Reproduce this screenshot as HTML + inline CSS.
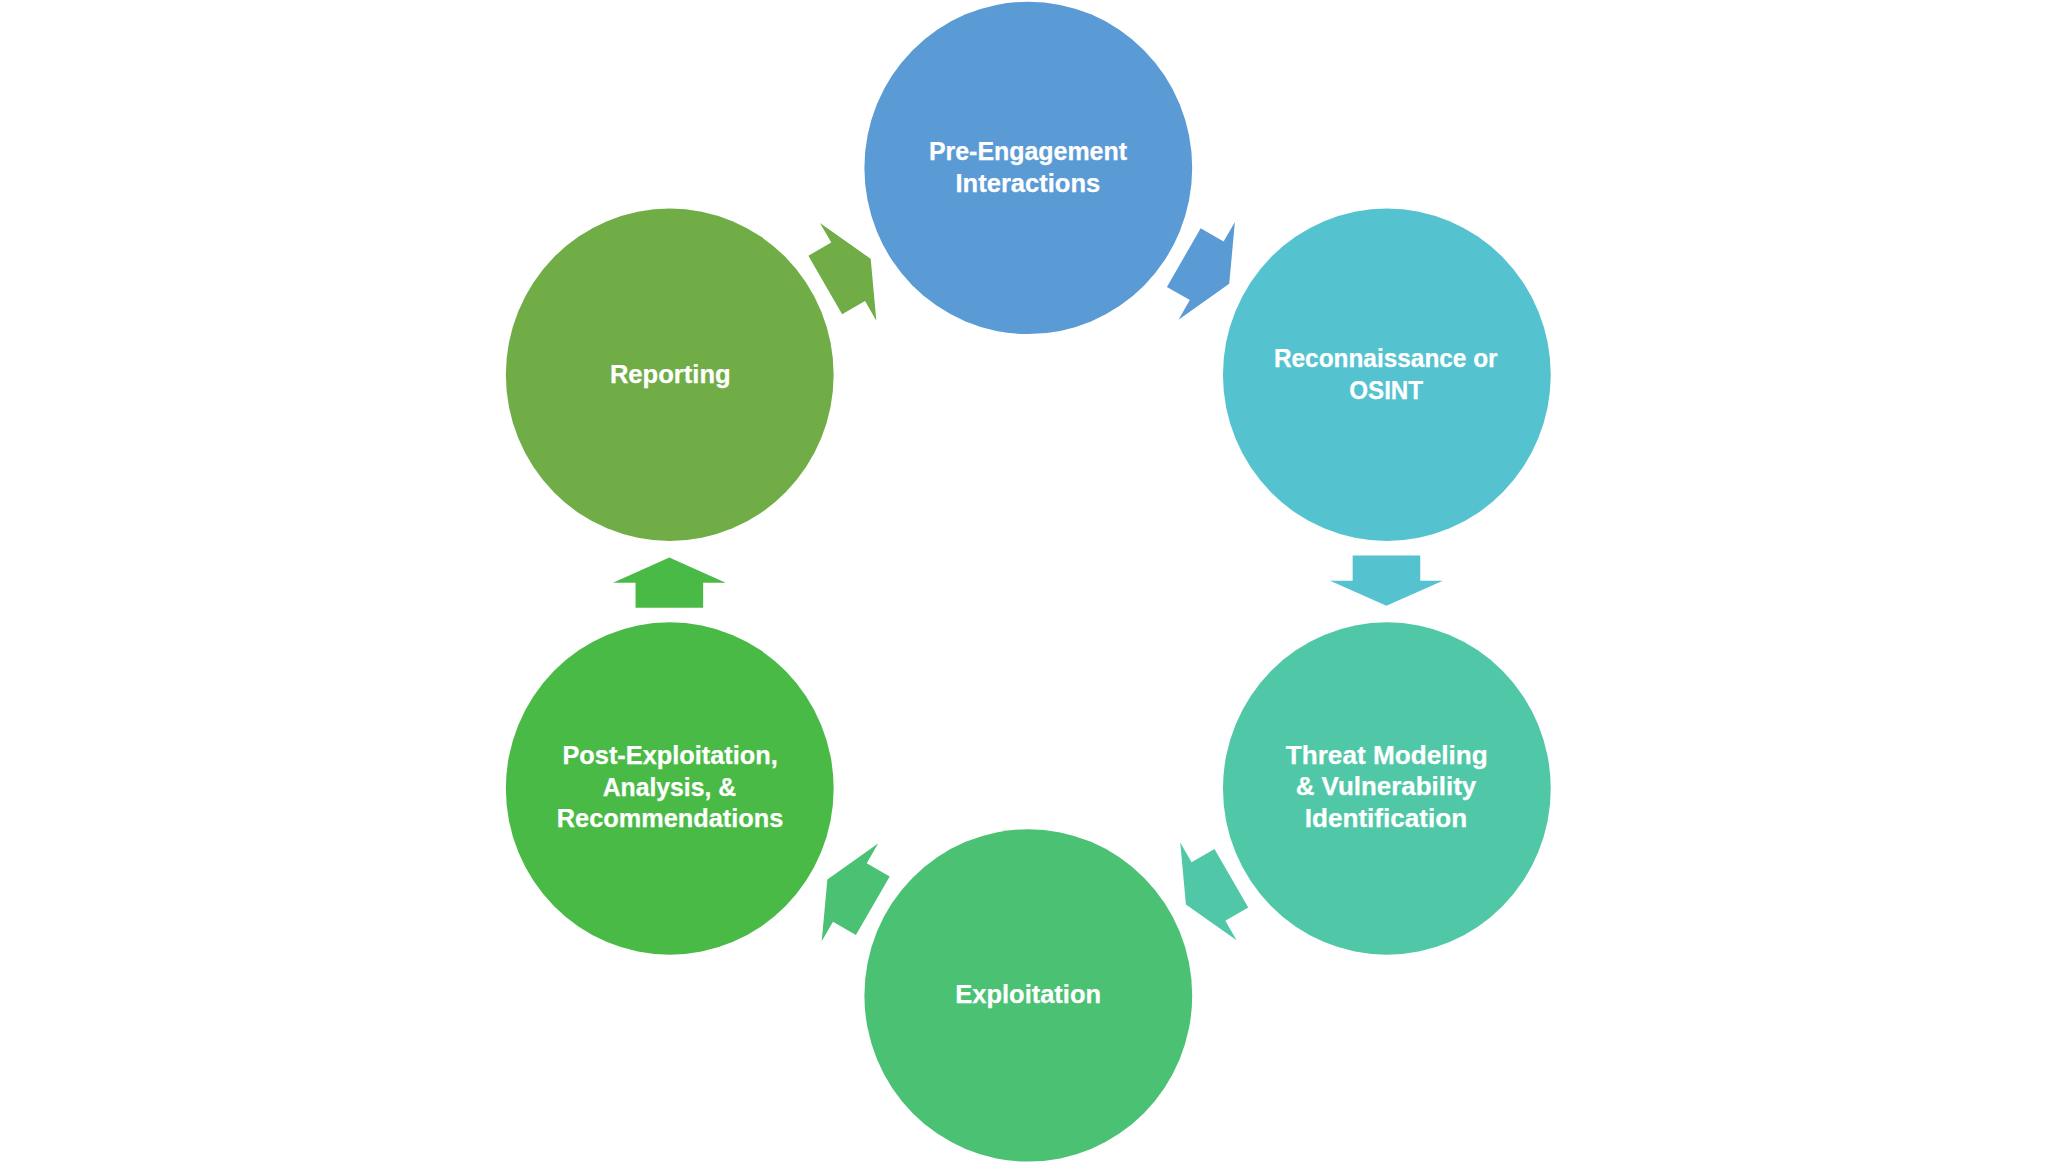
<!DOCTYPE html>
<html><head><meta charset="utf-8"><style>
html,body{margin:0;padding:0;background:#fff;width:2056px;height:1164px;overflow:hidden}
svg{display:block}
body{-webkit-font-smoothing:antialiased}
text{font-family:"Liberation Sans",sans-serif;font-weight:bold;fill:#fff;stroke:#fff;stroke-width:0.25px}
</style></head><body>
<svg width="2056" height="1164" viewBox="0 0 2056 1164">
<ellipse cx="1028.30" cy="167.90" rx="163.9" ry="166.2" fill="#5B9BD5"/>
<ellipse cx="1386.85" cy="374.77" rx="163.9" ry="166.2" fill="#55C3CF"/>
<ellipse cx="1386.85" cy="788.52" rx="163.9" ry="166.2" fill="#50C8A7"/>
<ellipse cx="1028.30" cy="995.40" rx="163.9" ry="166.2" fill="#4BC174"/>
<ellipse cx="669.75" cy="788.52" rx="163.9" ry="166.2" fill="#4ABA46"/>
<ellipse cx="669.75" cy="374.77" rx="163.9" ry="166.2" fill="#70AD47"/>
<polygon points="1200.69,228.34 1223.60,241.56 1234.90,221.99 1229.23,283.83 1178.52,319.69 1189.82,300.11 1166.91,286.90" fill="#5B9BD5"/>
<polygon points="1420.25,555.45 1420.25,580.65 1442.85,580.65 1386.45,605.85 1330.05,580.65 1352.65,580.65 1352.65,555.45" fill="#55C3CF"/>
<polygon points="1248.24,907.52 1225.33,920.74 1236.63,940.31 1185.92,904.46 1180.25,842.61 1191.55,862.19 1214.46,848.97" fill="#50C8A7"/>
<polygon points="855.91,934.96 833.00,921.74 821.70,941.31 827.37,879.47 878.08,843.61 866.78,863.19 889.69,876.40" fill="#4BC174"/>
<polygon points="635.55,607.85 635.55,582.65 612.95,582.65 669.35,557.45 725.75,582.65 703.15,582.65 703.15,607.85" fill="#4ABA46"/>
<polygon points="808.36,255.78 831.27,242.56 819.97,222.99 870.68,258.84 876.35,320.69 865.05,301.11 842.14,314.33" fill="#70AD47"/>
<text x="928.92" y="160.00" font-size="26.00" textLength="198.08" lengthAdjust="spacingAndGlyphs">Pre-Engagement</text>
<text x="955.50" y="191.90" font-size="26.00" textLength="144.78" lengthAdjust="spacingAndGlyphs">Interactions</text>
<text x="1273.88" y="367.20" font-size="26.00" textLength="223.74" lengthAdjust="spacingAndGlyphs">Reconnaissance or</text>
<text x="1349.20" y="398.80" font-size="26.00" textLength="73.90" lengthAdjust="spacingAndGlyphs">OSINT</text>
<text x="1285.72" y="763.60" font-size="26.00" textLength="201.98" lengthAdjust="spacingAndGlyphs">Threat Modeling</text>
<text x="1295.68" y="795.40" font-size="26.00" textLength="180.56" lengthAdjust="spacingAndGlyphs">&amp; Vulnerability</text>
<text x="1304.74" y="827.30" font-size="26.00" textLength="162.44" lengthAdjust="spacingAndGlyphs">Identification</text>
<text x="955.26" y="1003.10" font-size="26.00" textLength="145.82" lengthAdjust="spacingAndGlyphs">Exploitation</text>
<text x="562.40" y="763.90" font-size="26.00" textLength="215.48" lengthAdjust="spacingAndGlyphs">Post-Exploitation,</text>
<text x="602.72" y="795.80" font-size="26.00" textLength="133.32" lengthAdjust="spacingAndGlyphs">Analysis, &amp;</text>
<text x="556.78" y="827.40" font-size="26.00" textLength="226.54" lengthAdjust="spacingAndGlyphs">Recommendations</text>
<text x="609.88" y="383.10" font-size="26.00" textLength="120.86" lengthAdjust="spacingAndGlyphs">Reporting</text>
</svg>
</body></html>
